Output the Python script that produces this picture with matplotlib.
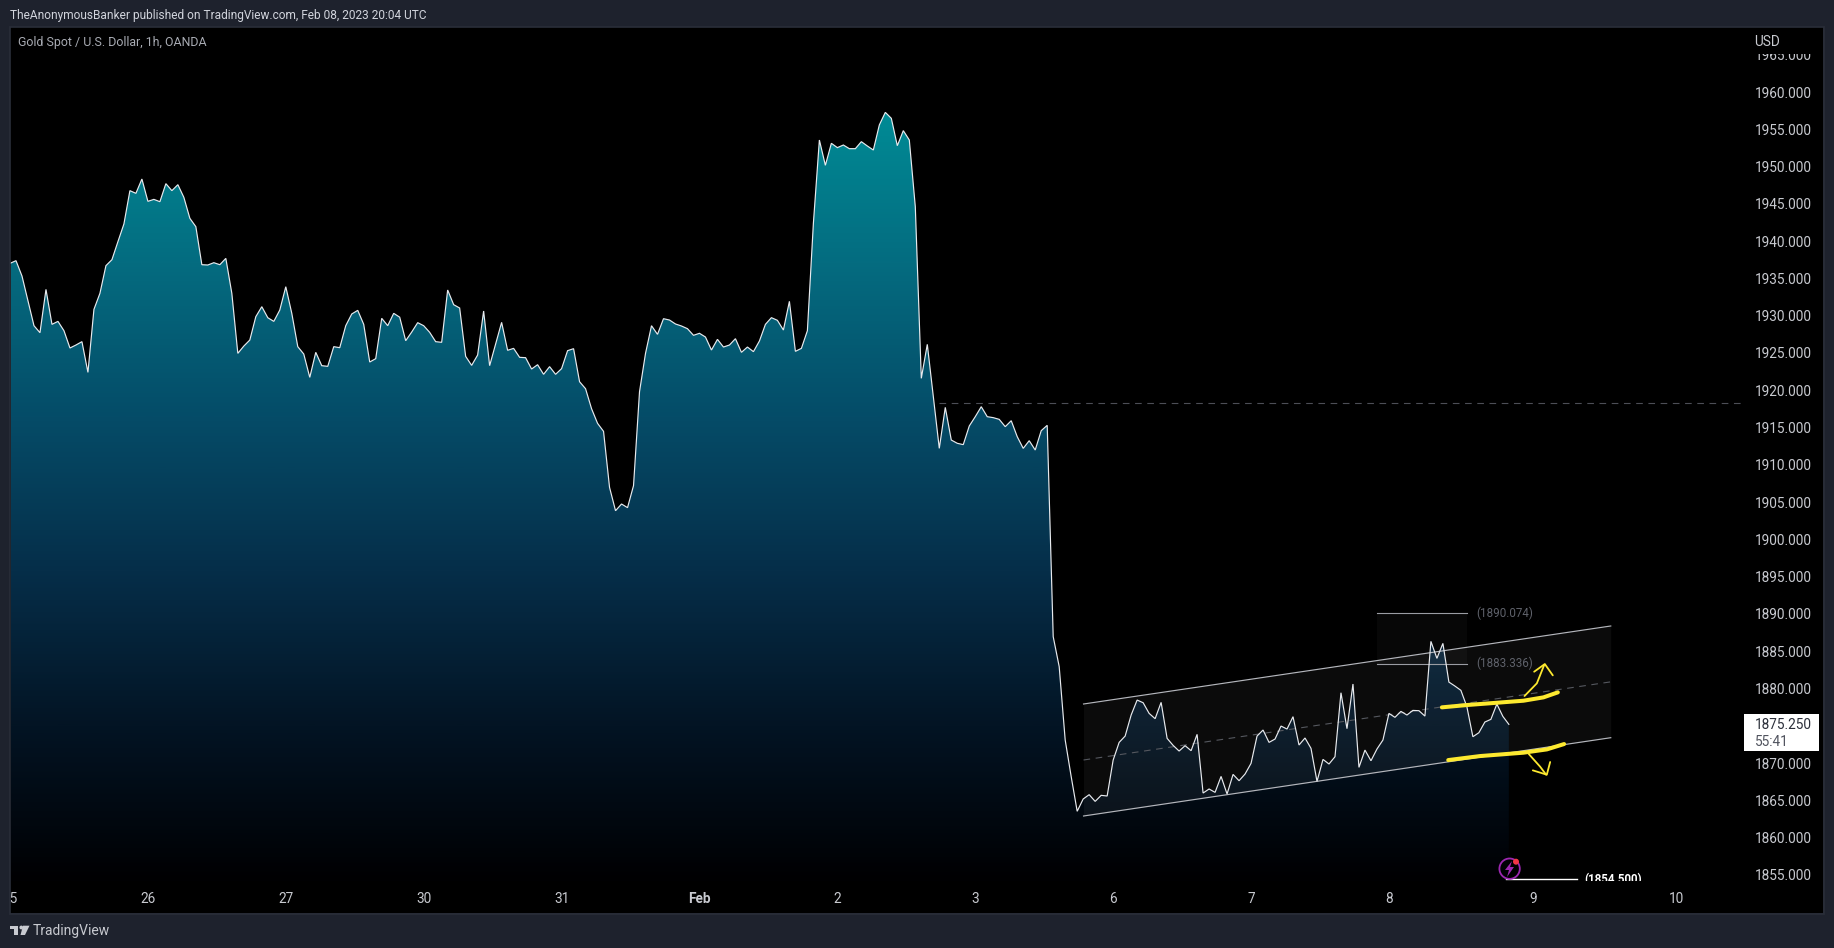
import matplotlib
matplotlib.use("Agg")
from matplotlib import pyplot as plt
from matplotlib.colors import LinearSegmentedColormap
from matplotlib.patches import Rectangle, Circle, Polygon
import numpy as np

plt.rcParams['font.family'] = ['Roboto', 'DejaVu Sans']

# hourly closes
closes_jan = [
    1937.02, 1937.38, 1935.32, 1932.00, 1928.66, 1927.72, 1933.53, 1928.84, 1929.24, 1927.99,
    1925.67, 1926.07, 1926.52, 1922.40, 1930.85, 1933.00, 1936.71, 1937.51, 1939.93, 1942.30,
    1946.77, 1946.41, 1948.33, 1945.34, 1945.60, 1945.29, 1947.71, 1946.77, 1947.57, 1945.87,
    1943.06, 1941.94, 1936.84, 1936.80, 1937.11, 1936.84, 1937.69, 1933.00, 1924.95, 1925.93,
    1926.74, 1929.87, 1931.21, 1929.73, 1929.24, 1930.76, 1933.89, 1930.32, 1925.85, 1924.86,
    1921.73, 1925.09, 1923.30, 1923.21, 1925.85, 1925.71, 1928.66, 1930.23, 1930.72, 1928.84,
    1923.79, 1924.24, 1929.65, 1928.66, 1930.32, 1929.80,
    1926.65, 1927.81, 1929.07, 1928.66, 1927.77, 1926.52, 1926.43, 1933.45, 1931.48, 1931.03,
    1924.55, 1923.34, 1924.73, 1930.63, 1923.30, 1926.20, 1929.11, 1925.36, 1925.62, 1924.42,
    1924.37, 1922.85, 1923.43, 1922.14, 1923.17, 1922.14, 1922.90, 1925.31, 1925.58, 1921.15,
    1920.21, 1917.53, 1915.57, 1914.49, 1906.98, 1903.85, 1904.75, 1904.26, 1907.21, 1919.81,
    1924.95, 1928.66, 1927.50, 1929.60, 1929.42, 1928.89, 1928.62, 1928.26, 1927.37, 1927.64,
    1927.14, 1925.40, 1926.83, 1925.80, 1926.07, 1926.92, 1925.09, 1925.80, 1925.18, 1926.61,
    1928.84, 1929.74, 1929.38, 1928.08, 1931.93, 1925.22, 1925.62,
]
closes_feb = [
    1927.99, 1942.39, 1953.56, 1950.17, 1953.12, 1952.54, 1952.89, 1952.40, 1952.40, 1953.34,
    1952.76, 1952.22, 1955.58, 1957.27, 1956.47, 1952.80, 1954.82, 1953.56, 1944.62, 1921.60,
    1926.16, 1919.14, 1912.21, 1917.71, 1913.33, 1912.89, 1912.71, 1915.21, 1916.46, 1917.80,
    1916.46, 1916.33, 1916.10, 1915.12, 1915.92, 1913.78, 1912.21, 1913.24, 1911.99, 1914.58,
    1915.30, 1886.96, 1882.94, 1873.10, 1868.19, 1863.54,
    1865.19, 1865.77, 1864.87, 1865.68, 1865.59, 1870.41, 1872.78, 1873.63, 1876.45, 1878.46,
    1878.10, 1876.67, 1875.96, 1878.15, 1873.32, 1872.38, 1871.62, 1872.34, 1871.67, 1873.86,
    1865.99, 1866.53, 1866.08, 1868.22, 1865.86, 1868.49, 1867.64, 1868.54, 1869.97, 1873.63,
    1874.44, 1872.78, 1873.23, 1874.97, 1874.57, 1876.23, 1872.43, 1873.37, 1871.98, 1867.55,
    1870.50, 1869.88, 1870.86, 1879.44, 1874.62, 1880.61, 1869.43,
    1871.75, 1870.32, 1871.89, 1873.10, 1876.67, 1876.14, 1876.94, 1876.45, 1877.07, 1877.03,
    1876.31, 1886.33, 1884.05, 1886.06, 1880.87, 1880.34, 1879.76, 1877.57, 1873.54, 1874.08,
    1875.51, 1875.87, 1877.92, 1876.27, 1875.20,
]

day_bars = [0, 23, 46, 69, 92, 115, 138, 161, 184, 207, 230, 254, 278]
day_labels = ['25', '26', '27', '30', '31', 'Feb', '2', '3', '6', '7', '8', '9', '10']
price_ticks = [1855, 1860, 1865, 1870, 1875, 1880, 1885, 1890, 1895, 1900, 1905, 1910,
               1915, 1920, 1925, 1930, 1935, 1940, 1945, 1950, 1955, 1960, 1965]

# drawings on the chart: (bar, price)
channel_bars = [179.06, 267.0]
channel_top = [1877.93, 1888.39]
channel_mid = [1870.42, 1880.90]
channel_low = [1862.91, 1873.41]
fib_bars = [228.05, 243.0]
fib_levels = [1890.074, 1883.336]
hline_price = 1918.25
hline_start = 155
low_price = 1854.5

upper_stroke = [(238.83, 1877.48), (243.0, 1877.79), (252.44, 1878.37), (255.78, 1878.82), (258.17, 1879.49)]
lower_stroke = [(239.89, 1870.41), (245.22, 1870.95), (252.44, 1871.40), (256.33, 1871.84), (259.22, 1872.56)]
up_arrow = [(252.61, 1879.0), (254.67, 1880.7), (255.89, 1883.15)]
up_head = [(254.22, 1882.26), (256.0, 1883.29), (257.33, 1881.77)]
down_arrow = [(253.33, 1871.22), (255.22, 1869.52), (256.22, 1868.45)]
down_head = [(254.0, 1869.03), (256.33, 1868.45), (256.89, 1870.15)]

W, H = 1834, 948
CHROME = '#1e222d'
BORDER = '#2a2e39'
LABEL = '#c8cad0'
FOREST = ['#008c96', '#046c80', '#054c68', '#062e49', '#031424', '#000002']


def plot_axes(fig):
    """main pane, bar index 0 sits at pixel 8.67 and each bar is 6 px wide"""
    left, right, top, bottom = 10, 1744, 27, 881
    ax = fig.add_axes([left / W, 1 - bottom / H, (right - left) / W, (bottom - top) / H])
    ax.set_facecolor('black')
    ax.set_xlim((left - 8.67) / 6, (right - 8.67) / 6)
    ax.set_ylim(1960 - (bottom - 92) / 7.457, 1960 - (top - 92) / 7.457)
    for spine in ax.spines.values():
        spine.set_visible(False)
    return ax


def area(ax, closes):
    bars = np.arange(len(closes))
    y0, y1 = ax.get_ylim()
    x0, x1 = ax.get_xlim()
    cmap = LinearSegmentedColormap.from_list('area', FOREST)
    # gradient runs from the top of the data down to the pane bottom
    ramp = np.linspace(0, 1, 512).reshape(-1, 1)
    img = ax.imshow(ramp, cmap=cmap, aspect='auto', origin='upper',
                    extent=[x0, x1, y0, 1958], zorder=1)
    xy = np.column_stack([np.r_[bars, bars[-1], bars[0]], np.r_[closes, y0, y0]])
    clip = Polygon(xy, closed=True, transform=ax.transData, facecolor='none', edgecolor='none')
    ax.add_patch(clip)
    img.set_clip_path(clip)
    ax.set_xlim(x0, x1)
    ax.set_ylim(y0, y1)
    ax.plot(bars, closes, color='#e8eaee', lw=0.85, zorder=5, solid_joinstyle='miter')


def drawings(ax):
    ax.fill_between(channel_bars, channel_low, channel_top, color='white', alpha=0.048, lw=0, zorder=3)
    ax.plot(channel_bars, channel_top, color='#b4b6bc', lw=0.85, zorder=4)
    ax.plot(channel_bars, channel_low, color='#b4b6bc', lw=0.85, zorder=4)
    ax.plot(channel_bars, channel_mid, color='#55585f', lw=0.8, ls=(0, (6, 5)), zorder=4)

    ax.fill_between(fib_bars, fib_levels[1], fib_levels[0], color='white', alpha=0.03, lw=0, zorder=3)
    for level in fib_levels:
        ax.plot(fib_bars, [level, level], color='#9a9ca3', lw=0.8, zorder=4)
        ax.text(fib_bars[1] + 1.55, level, '(%.3f)' % level, color='#5f626b', fontsize=8.4,
                va='center', ha='left', zorder=6)

    ax.plot([hline_start, ax.get_xlim()[1]], [hline_price, hline_price], color='#4c4e56',
            lw=0.8, ls=(0, (6, 5)), zorder=4)

    ax.plot([249.5, 261.3], [low_price, low_price], color='white', lw=1.0, zorder=6)
    ax.text(262.5, low_price - 0.15, '(%.3f)' % low_price, color='white', fontsize=8.3, fontweight='bold',
            va='center', ha='left', zorder=6, clip_on=True)

    for stroke in (upper_stroke, lower_stroke):
        x, y = zip(*stroke)
        ax.plot(x, y, color='#fde92f', lw=2.9, zorder=7, solid_capstyle='round')
    for stroke in (up_arrow, up_head, down_arrow, down_head):
        x, y = zip(*stroke)
        ax.plot(x, y, color='#fde92f', lw=1.3, zorder=7, solid_capstyle='round')


def axis_labels(ax):
    ax.yaxis.tick_right()
    ax.set_yticks(price_ticks)
    ax.set_yticklabels(['%.3f' % p for p in price_ticks])
    ax.tick_params(axis='y', length=0, pad=7.9, labelsize=9.8, labelcolor=LABEL)
    ax.set_xticks(day_bars)
    ax.set_xticklabels(day_labels)
    ax.tick_params(axis='x', length=0, pad=7.6, labelsize=9.8, labelcolor=LABEL)
    for lab in ax.get_xticklabels():
        if lab.get_text() == 'Feb':
            lab.set_fontweight('bold')


def overlay(fig):
    """chrome around the pane, in plain pixel coordinates"""
    ov = fig.add_axes([0, 0, 1, 1], zorder=10)
    ov.set_xlim(0, W)
    ov.set_ylim(H, 0)
    ov.axis('off')
    ov.patch.set_alpha(0)

    # hides the top of the clipped 1965 label under the currency title
    ov.add_patch(Rectangle((1745, 27), 78, 27, color='black', lw=0))

    for x, y, w, h in [(0, 0, W, 27), (0, 913, W, 35), (0, 0, 10, H), (1823, 0, 11, H)]:
        ov.add_patch(Rectangle((x, y), w, h, color=CHROME, lw=0))
    ov.add_patch(Rectangle((9.5, 26.5), 1814, 887, fill=False, edgecolor=BORDER, lw=1.2))

    ov.text(10, 15, 'TheAnonymousBanker published on TradingView.com, Feb 08, 2023 20:04 UTC',
            color='#d1d4dc', fontsize=8.55, va='center', ha='left')
    ov.text(18, 42, 'Gold Spot / U.S. Dollar, 1h, OANDA', color='#a8abb3', fontsize=8.9,
            va='center', ha='left')
    ov.text(1754, 42, 'USD', color=LABEL, fontsize=9.8, va='center', ha='left')

    # last price box
    ov.add_patch(Rectangle((1744, 714), 75, 37, color='white', lw=0))
    ov.text(1755, 725, '1875.250', color='#2a2e39', fontsize=9.8, va='center', ha='left')
    ov.text(1755, 742, '55:41', color='#50535e', fontsize=9.8, va='center', ha='left')

    # alert icon
    ov.add_patch(Circle((1509.6, 868.7), 10.2, fill=False, edgecolor='#9c27b0', lw=1.3))
    ov.add_patch(Polygon([(1512, 861), (1505, 870), (1509, 870), (1507, 877), (1514, 867), (1510, 867)],
                         closed=True, color='#9c27b0', lw=0))
    ov.add_patch(Circle((1516, 861.7), 3, color='#f23645', lw=0))

    # footer logo
    ov.add_patch(Polygon([(10, 925.7), (17.5, 925.7), (17.5, 935), (13.5, 935), (13.5, 929), (10, 929)],
                         closed=True, color=LABEL, lw=0))
    ov.add_patch(Circle((21.3, 927.5), 1.9, color=LABEL, lw=0))
    ov.add_patch(Polygon([(23, 925.7), (29.5, 925.7), (25, 935), (20.5, 935)],
                         closed=True, color=LABEL, lw=0))
    ov.text(33, 930.5, 'TradingView', color=LABEL, fontsize=10.0, va='center', ha='left')


def main():
    fig = plt.figure(figsize=(W / 100, H / 100), dpi=100, facecolor='black')
    ax = plot_axes(fig)
    area(ax, closes_jan + closes_feb)
    drawings(ax)
    axis_labels(ax)
    overlay(fig)
    fig.savefig('out.png', dpi=100, facecolor='black')


if __name__ == "__main__":
    main()
